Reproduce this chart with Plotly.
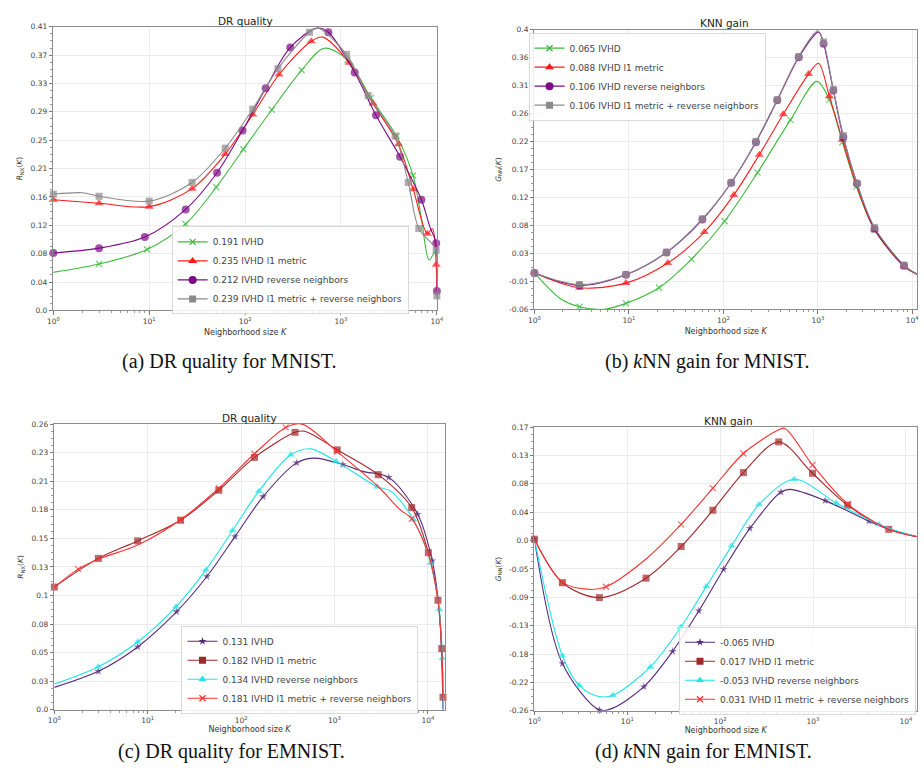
import plotly.graph_objects as go

# ---------------- data ----------------
# (a) DR quality for MNIST
A_IVHD_K = [1, 3, 9.5, 24, 50, 96, 190, 388, 670, 1170, 2050, 3800, 5650, 6900, 8300, 9700, 10000]
A_IVHD_V = [0.055, 0.067, 0.088, 0.125, 0.178, 0.233, 0.290, 0.347, 0.379, 0.362, 0.307, 0.252, 0.195, 0.133, 0.073, 0.085, 0.018]
A_IVHD_M = [0, 1, 1, 1, 1, 1, 1, 1, 0, 1, 1, 1, 1, 0, 0, 0, 0]

A_L1_K = [1, 3, 10, 28, 62, 120, 226, 490, 645, 1217, 2160, 3980, 5670, 7950, 9000, 9840, 10000]
A_L1_V = [0.160, 0.155, 0.150, 0.176, 0.226, 0.283, 0.341, 0.389, 0.395, 0.358, 0.299, 0.240, 0.175, 0.111, 0.118, 0.066, 0.025]
A_L1_M = [1, 1, 1, 1, 1, 1, 1, 1, 0, 1, 1, 1, 1, 1, 0, 1, 0]

A_RN_K = [1, 3, 9, 24, 51, 94, 164, 296, 560, 739, 1390, 2320, 4130, 6900, 8500, 9840, 10000]
A_RN_V = [0.083, 0.090, 0.106, 0.146, 0.199, 0.260, 0.321, 0.380, 0.408, 0.402, 0.344, 0.282, 0.222, 0.160, 0.120, 0.097, 0.028]
A_RN_M = [1, 1, 1, 1, 1, 1, 1, 1, 0, 1, 1, 1, 1, 1, 0, 1, 1]

A_BOTH_K = [1, 2, 3, 10, 28, 62, 120, 220, 470, 575, 1140, 1920, 3670, 5030, 6480, 9840, 10000]
A_BOTH_V = [0.168, 0.170, 0.165, 0.158, 0.185, 0.2345, 0.291, 0.3495, 0.402, 0.408, 0.370, 0.3105, 0.252, 0.185, 0.1185, 0.087, 0.021]
A_BOTH_M = [1, 0, 1, 1, 1, 1, 1, 1, 1, 0, 1, 1, 1, 1, 1, 1, 1]

# (b) kNN gain for MNIST
B_IVHD_K = [1, 1.87, 3, 5.3, 9.3, 20.8, 46, 103, 230, 513, 975, 1325, 1820, 2560, 3980, 8180, 11200]
B_IVHD_V = [0.0, -0.042, -0.0557, -0.060, -0.050, -0.0243, 0.0228, 0.085, 0.165, 0.2517, 0.315, 0.285, 0.215, 0.142, 0.071, 0.011, -0.002]
B_IVHD_M = [0, 0, 1, 0, 1, 1, 1, 1, 1, 1, 0, 1, 1, 1, 1, 1, 0]

B_L1_K = [1, 3, 9.3, 25.8, 62.8, 129, 240, 430, 797, 1016, 1325, 1820, 2560, 3980, 8180, 11200]
B_L1_V = [0.0, -0.0243, -0.0167, 0.0163, 0.0672, 0.1283, 0.1944, 0.261, 0.327, 0.3448, 0.2907, 0.219, 0.1446, 0.0715, 0.011, -0.002]
B_L1_M = [1, 1, 1, 1, 1, 1, 1, 1, 1, 0, 1, 1, 0, 1, 1, 0]

B_RN_K = [1, 3, 9.3, 25, 60, 121, 221, 372, 628, 1016, 1150, 1460, 1860, 2600, 3980, 8180, 11200]
B_RN_V = [0.0, -0.0205, -0.003, 0.0336, 0.0877, 0.1484, 0.215, 0.284, 0.3545, 0.396, 0.377, 0.300, 0.223, 0.147, 0.0726, 0.012, -0.002]
B_RN_M = [1, 1, 1, 1, 1, 1, 1, 1, 1, 0, 1, 1, 1, 1, 1, 1, 0]

B_BOTH_K = [1, 3, 9.3, 25, 60, 121, 221, 372, 628, 1000, 1150, 1460, 1860, 2600, 3980, 8180, 11200]
B_BOTH_V = [0.0, -0.019, -0.0025, 0.034, 0.089, 0.1484, 0.216, 0.285, 0.356, 0.398, 0.380, 0.302, 0.226, 0.147, 0.075, 0.013, -0.002]
B_BOTH_M = [1, 1, 1, 1, 1, 1, 1, 1, 1, 0, 1, 1, 1, 1, 1, 1, 0]

# (c) DR quality for EMNIST
C_IVHD_K = [1, 2.96, 7.8, 20.4, 43, 86, 172, 393, 610, 1225, 2000, 3800, 7770, 11120, 13200, 14000, 14500]
C_IVHD_V = [0.0204, 0.035, 0.0572, 0.0893, 0.1213, 0.1576, 0.194, 0.2247, 0.229, 0.2232, 0.217, 0.2115, 0.178, 0.1357, 0.0908, 0.050, 0.0]
C_IVHD_M = [0, 1, 1, 1, 1, 1, 1, 1, 0, 1, 0, 1, 1, 1, 0, 0, 0]

C_L1_K = [1, 2.96, 7.8, 22.5, 57.7, 139, 378, 480, 1067, 2940, 6710, 10100, 12800, 14060, 14500]
C_L1_V = [0.1117, 0.1378, 0.1537, 0.1725, 0.1998, 0.2297, 0.2525, 0.2535, 0.2366, 0.214, 0.184, 0.143, 0.0997, 0.0557, 0.0114]
C_L1_M = [1, 1, 1, 1, 1, 1, 1, 0, 1, 1, 1, 1, 1, 1, 1]

C_RN_K = [1, 2.96, 7.8, 20.1, 42, 81, 155, 340, 560, 1040, 2860, 4000, 7000, 10700, 13200, 14300, 14600]
C_RN_V = [0.0234, 0.0392, 0.0617, 0.0938, 0.1273, 0.1632, 0.199, 0.2321, 0.2375, 0.2261, 0.203, 0.199, 0.173, 0.1336, 0.0914, 0.047, 0.0]
C_RN_M = [0, 1, 1, 1, 1, 1, 1, 1, 0, 1, 1, 0, 1, 1, 1, 1, 0]

C_BOTH_K = [1, 1.8, 2.96, 7.8, 22.5, 57.7, 139, 300, 450, 1067, 2940, 5060, 6710, 10100, 12800, 14060, 14500]
C_BOTH_V = [0.1117, 0.128, 0.137, 0.150, 0.173, 0.2016, 0.233, 0.257, 0.260, 0.235, 0.203, 0.182, 0.174, 0.1417, 0.0997, 0.056, 0.011]
C_BOTH_M = [0, 1, 0, 0, 1, 1, 1, 1, 0, 1, 0, 0, 1, 0, 0, 0, 0]

# (d) kNN gain for EMNIST
D_IVHD_K = [1, 2.0, 5.0, 7.0, 15.1, 30.7, 59, 109, 209, 452, 570, 1350, 4000, 6540, 13000]
D_IVHD_V = [0.0, -0.1885, -0.259, -0.256, -0.2235, -0.170, -0.1085, -0.0455, 0.0165, 0.0715, 0.0755, 0.0585, 0.0275, 0.015, 0.004]
D_IVHD_M = [1, 1, 1, 0, 1, 1, 1, 1, 1, 1, 0, 1, 1, 0, 0]

D_L1_K = [1, 2.0, 5.0, 15.9, 38, 83.5, 178, 427, 988, 2360, 6540, 13000]
D_L1_V = [0.0, -0.066, -0.0885, -0.059, -0.011, 0.044, 0.101, 0.1475, 0.100, 0.0515, 0.015, 0.004]
D_L1_M = [1, 1, 1, 1, 1, 1, 1, 1, 1, 1, 1, 0]

D_RN_K = [1, 2.0, 3.03, 4.8, 7.0, 17.7, 37.6, 71, 133, 262, 626, 1780, 5130, 13000]
D_RN_V = [0.0, -0.1765, -0.2215, -0.238, -0.2365, -0.1935, -0.1335, -0.0715, -0.010, 0.0525, 0.091, 0.055, 0.0225, 0.004]
D_RN_M = [0, 1, 1, 0, 1, 1, 1, 1, 1, 1, 1, 1, 1, 0]

D_BOTH_K = [1, 2.0, 3.9, 5.9, 15.9, 38, 83.5, 178, 427, 500, 988, 2360, 6540, 13000]
D_BOTH_V = [0.0, -0.065, -0.076, -0.072, -0.030, 0.0225, 0.0775, 0.130, 0.166, 0.168, 0.1125, 0.0535, 0.015, 0.004]
D_BOTH_M = [0, 1, 0, 1, 0, 1, 1, 1, 0, 0, 1, 1, 0, 0]

# legend labels
A_NAMES = ["0.191 IVHD", "0.235 IVHD l1 metric", "0.212 IVHD reverse neighbors", "0.239 IVHD l1 metric + reverse neighbors"]
B_NAMES = ["0.065 IVHD", "0.088 IVHD l1 metric", "0.106 IVHD reverse neighbors", "0.106 IVHD l1 metric + reverse neighbors"]
C_NAMES = ["0.131 IVHD", "0.182 IVHD l1 metric", "0.134 IVHD reverse neighbors", "0.181 IVHD l1 metric + reverse neighbors"]
D_NAMES = ["-0.065 IVHD", "0.017 IVHD l1 metric", "-0.053 IVHD reverse neighbors", "0.031 IVHD l1 metric + reverse neighbors"]

# y tick labels
A_YTICKS = ["0.0", "0.04", "0.08", "0.12", "0.16", "0.21", "0.25", "0.29", "0.33", "0.37", "0.41"]
B_YTICKS = ["-0.06", "-0.01", "0.03", "0.08", "0.12", "0.17", "0.22", "0.26", "0.31", "0.36", "0.4"]
C_YTICKS = ["0.0", "0.03", "0.05", "0.08", "0.1", "0.13", "0.15", "0.18", "0.21", "0.23", "0.26"]
D_YTICKS = ["-0.26", "-0.22", "-0.18", "-0.13", "-0.09", "-0.05", "0.0", "0.04", "0.08", "0.13", "0.17"]
A_YRANGE = [0.0, 0.41]
B_YRANGE = [-0.06, 0.40]
C_YRANGE = [0.0, 0.26]
D_YRANGE = [-0.26, 0.17]

X_TICKS = [1, 10, 100, 1000, 10000]
X_TICKTEXT = ["10<sup>0</sup>", "10<sup>1</sup>", "10<sup>2</sup>", "10<sup>3</sup>", "10<sup>4</sup>"]

TITLES = ["DR quality", "KNN gain", "DR quality", "KNN gain"]
CAPTIONS = ["(a) DR quality for MNIST.", "(b) <i>k</i>NN gain for MNIST.",
            "(c) DR quality for EMNIST.", "(d) <i>k</i>NN gain for EMNIST."]

# ---------------- figure ----------------
W, H = 924, 782
fig = go.Figure()

GREEN, RED, PURPLE, GRAY = "#3dba3d", "#ff1a1a", "#7d0a86", "#8a8a8a"
INDIGO, BROWN, CYAN, RED2 = "#56297a", "#a3262a", "#1fe3e8", "#ff3030"


def add_series(ax, leg, name, K, V, M, color, symbol, size):
    thin = symbol.endswith("thin")
    mline = dict(width=1.3, color=color) if thin else dict(width=0)
    sizes = [size if m else 0 for m in M]
    fig.add_trace(go.Scatter(
        x=K, y=V, mode="lines+markers", xaxis="x" + ax, yaxis="y" + ax,
        line=dict(color=color, width=1.1, shape="spline", smoothing=0.9),
        marker=dict(symbol=symbol, size=sizes, color=color, line=mline),
        showlegend=False, cliponaxis=False, hoverinfo="skip"))
    fig.add_trace(go.Scatter(
        x=[None], y=[None], mode="lines+markers", name=name, legend=leg,
        xaxis="x" + ax, yaxis="y" + ax,
        line=dict(color=color, width=1.1),
        marker=dict(symbol=symbol, size=size, color=color, line=mline)))


add_series("", "legend", A_NAMES[0], A_IVHD_K, A_IVHD_V, A_IVHD_M, GREEN, "x-thin", 6)
add_series("", "legend", A_NAMES[1], A_L1_K, A_L1_V, A_L1_M, RED, "triangle-up", 8)
add_series("", "legend", A_NAMES[2], A_RN_K, A_RN_V, A_RN_M, PURPLE, "circle", 8)
add_series("", "legend", A_NAMES[3], A_BOTH_K, A_BOTH_V, A_BOTH_M, GRAY, "square", 7)

add_series("2", "legend2", B_NAMES[0], B_IVHD_K, B_IVHD_V, B_IVHD_M, GREEN, "x-thin", 6)
add_series("2", "legend2", B_NAMES[1], B_L1_K, B_L1_V, B_L1_M, RED, "triangle-up", 8)
add_series("2", "legend2", B_NAMES[2], B_RN_K, B_RN_V, B_RN_M, PURPLE, "circle", 8)
add_series("2", "legend2", B_NAMES[3], B_BOTH_K, B_BOTH_V, B_BOTH_M, GRAY, "square", 7)

add_series("3", "legend3", C_NAMES[0], C_IVHD_K, C_IVHD_V, C_IVHD_M, INDIGO, "star", 6)
add_series("3", "legend3", C_NAMES[1], C_L1_K, C_L1_V, C_L1_M, BROWN, "square", 7)
add_series("3", "legend3", C_NAMES[2], C_RN_K, C_RN_V, C_RN_M, CYAN, "triangle-up", 7)
add_series("3", "legend3", C_NAMES[3], C_BOTH_K, C_BOTH_V, C_BOTH_M, RED2, "x-thin", 6)

add_series("4", "legend4", D_NAMES[0], D_IVHD_K, D_IVHD_V, D_IVHD_M, INDIGO, "star", 6)
add_series("4", "legend4", D_NAMES[1], D_L1_K, D_L1_V, D_L1_M, BROWN, "square", 7)
add_series("4", "legend4", D_NAMES[2], D_RN_K, D_RN_V, D_RN_M, CYAN, "triangle-up", 7)
add_series("4", "legend4", D_NAMES[3], D_BOTH_K, D_BOTH_V, D_BOTH_M, RED2, "x-thin", 6)


def px_dom(a, b, total):
    return [a / total, b / total]


def py_dom(top, bottom):
    return [1 - bottom / H, 1 - top / H]


MINOR_X = [m * 10 ** e for e in range(0, 5) for m in range(2, 10)]
TICKFONT = dict(family="DejaVu Sans", size=7.5, color="#444")
AXCOL = "#8c8c8c"


def xaxis(dom, rng, anchor, standoff):
    return dict(type="log", domain=dom, range=rng, anchor=anchor,
                tickmode="array", tickvals=X_TICKS, ticktext=X_TICKTEXT,
                ticks="outside", ticklen=3.5, tickcolor="#777", tickfont=TICKFONT,
                showline=True, linecolor=AXCOL, linewidth=1, mirror=True,
                showgrid=True, gridcolor="#ececec", gridwidth=1, zeroline=False,
                minor=dict(tickmode="array", tickvals=MINOR_X, ticks="outside", ticklen=2,
                           tickcolor="#999", showgrid=False),
                title=dict(text="Neighborhood size <i>K</i>",
                           font=dict(family="DejaVu Sans", size=8, color="#333"), standoff=standoff))


def yaxis(dom, yr, labels, anchor, title):
    lo, hi = yr
    vals = [lo + (hi - lo) * i / 10 for i in range(11)]
    step = (hi - lo) / 10
    return dict(domain=dom, range=[lo, hi], anchor=anchor,
                tickmode="array", tickvals=vals, ticktext=labels,
                ticks="outside", ticklen=3.5, tickcolor="#777", tickfont=TICKFONT,
                showline=True, linecolor=AXCOL, linewidth=1, mirror=True,
                showgrid=True, gridcolor="#ececec", gridwidth=1, zeroline=False,
                minor=dict(tickmode="linear", tick0=lo, dtick=step / 4, ticks="outside",
                           ticklen=2, tickcolor="#999", showgrid=False),
                title=dict(text=title, font=dict(family="DejaVu Sans", size=7.5, color="#333"),
                           standoff=6))


RNX = "<i>R</i><sub>NX</sub>(<i>K</i>)"
GNN = "<i>G</i><sub>NN</sub>(<i>K</i>)"

LEGEND_STYLE = dict(font=dict(family="DejaVu Sans", size=9, color="#444"),
                    bgcolor="rgba(255,255,255,0.85)", bordercolor="#d9d9d9", borderwidth=1,
                    yanchor="top", itemwidth=30, tracegroupgap=0)

fig.update_layout(
    width=W, height=H, margin=dict(l=0, r=0, t=0, b=0),
    paper_bgcolor="white", plot_bgcolor="white",
    xaxis=xaxis(px_dom(48, 437, W), [0, 4.0], "y", 4),
    yaxis=yaxis(py_dom(23, 310), A_YRANGE, A_YTICKS, "x", RNX),
    xaxis2=xaxis(px_dom(536, 924, W), [0, 4.05], "y2", 4),
    yaxis2=yaxis(py_dom(26, 309), B_YRANGE, B_YTICKS, "x2", GNN),
    xaxis3=xaxis(px_dom(49, 445, W), [0, 4.18], "y3", 2),
    yaxis3=yaxis(py_dom(425, 714), C_YRANGE, C_YTICKS, "x3", RNX),
    xaxis4=xaxis(px_dom(536, 924, W), [0, 4.12], "y4", 2),
    yaxis4=yaxis(py_dom(428, 715), D_YRANGE, D_YTICKS, "x4", GNN),
    legend=dict(x=168 / W, y=1 - 225 / H, xanchor="left", **LEGEND_STYLE),
    legend2=dict(x=530 / W, y=1 - 29 / H, xanchor="left", **LEGEND_STYLE),
    legend3=dict(x=178 / W, y=1 - 629 / H, xanchor="left", **LEGEND_STYLE),
    legend4=dict(x=923 / W, y=1 - 630 / H, xanchor="right", **LEGEND_STYLE),
)

title_pos = [(243, 17), (729, 19), (247, 419), (733, 422)]
for t, (tx, ty) in zip(TITLES, title_pos):
    fig.add_annotation(text=t, x=tx / W, y=1 - ty / H, xref="paper", yref="paper",
                       showarrow=False, xanchor="center", yanchor="middle",
                       font=dict(family="DejaVu Sans", size=10.5, color="#222"))

cap_pos = [(227, 362), (712, 362), (229, 756), (707, 756)]
for c, (cx, cy) in zip(CAPTIONS, cap_pos):
    fig.add_annotation(text=c, x=cx / W, y=1 - cy / H, xref="paper", yref="paper",
                       showarrow=False, xanchor="center", yanchor="middle",
                       font=dict(family="Liberation Serif", size=20, color="#111"))

fig.write_html("out.html")
